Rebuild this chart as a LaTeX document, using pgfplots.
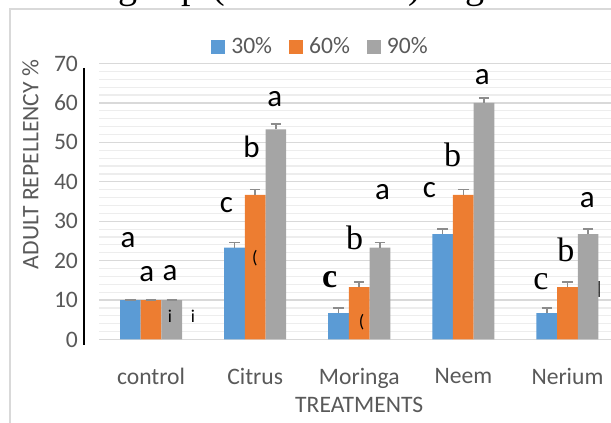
\documentclass[border=0pt]{standalone}
\usepackage{pgfplots}
\pgfplotsset{compat=1.18}
\usepackage{fontspec}
\setmainfont{Carlito}
\newfontfamily\serif{Liberation Serif}
\definecolor{cblue}{HTML}{5B9BD5}
\definecolor{corange}{HTML}{ED7D31}
\definecolor{cgray}{HTML}{A5A5A5}
\definecolor{txt}{HTML}{595959}
\definecolor{majg}{HTML}{D9D9D9}
\definecolor{ming}{HTML}{EDEDED}
\definecolor{errc}{HTML}{8C8C8C}
\begin{document}
\begin{tikzpicture}
\path[use as bounding box] (0,0) rectangle (305.5pt,211.5pt);
\clip (0,0) rectangle (305.5pt,211.5pt);
% outer frame
\draw[majg, line width=0.8pt] (5pt,-1pt) -- (5pt,207pt) -- (310pt,207pt);
% title fragments (cut off at the top edge)
\begin{scope}[font=\serif\fontsize{19}{21}\selectfont]
\node[anchor=base, inner sep=0] at (64pt,212pt) {g};
\node[anchor=base, inner sep=0] at (95.5pt,212pt) {p};
\node[anchor=base, inner sep=0] at (109.5pt,212pt) {(};
\node[anchor=base, inner sep=0] at (207.5pt,212pt) {)};
\node[anchor=base, inner sep=0] at (237.5pt,212pt) {g};
\end{scope}
% y axis black line
\draw[black, line width=0.7pt] (42pt,177.5pt) -- (42pt,39pt);
% y label
\node[rotate=90, text=txt, font=\fontsize{11.8}{13}\selectfont] at (15.25pt,129.25pt) {ADULT REPELLENCY \%};
\begin{axis}[
  at={(49.5pt,41.75pt)}, anchor=south west,
  scale only axis, width=260.25pt, height=138pt,
  xmin=-0.5, xmax=4.5, ymin=0, ymax=70,
  ybar=0pt, bar width=10.35pt,
  xtick={0,1,2,3,4},
  xticklabels={control,Citrus,Moringa,Neem,Nerium},
  ytick={0,10,...,70},
  minor y tick num=4,
  ymajorgrids, yminorgrids,
  major grid style={majg, line width=0.7pt},
  minor grid style={ming, line width=0.6pt},
  axis line style={draw=none},
  tick style={draw=none},
  minor tick style={draw=none},
  /pgf/number format/assume math mode=true,
  tick label style={text=txt, font=\fontsize{11.8}{13}\selectfont},
  yticklabel style={xshift=-7pt},
  xticklabel style={yshift=-6.5pt},
  xlabel={TREATMENTS},
  xlabel style={at={(rel axis cs:0.5,0)}, anchor=center, yshift=-32.5pt, text=txt, font=\fontsize{11.8}{13}\selectfont},
  legend style={at={(rel axis cs:0.4236,1.0616)}, anchor=center, draw=none, fill=none,
    legend columns=-1, font=\fontsize{11.8}{13}\selectfont, text=txt,
    nodes={inner sep=0pt},
    /tikz/every odd column/.append style={column sep=3pt},
    /tikz/every even column/.append style={column sep=8.5pt}},
  legend image code/.code={\fill[#1] (0pt,-3.5pt) rectangle (7pt,3.5pt);},
  error bars/y dir=plus, error bars/y explicit,
  error bars/error bar style={errc, line width=0.8pt},
  error bars/error mark options={rotate=90, errc, mark size=2.6pt, line width=0.8pt},
  clip=false,
]
\addplot[fill=cblue, draw=none] coordinates {(0,10) +- (0,0) (1,23.3) +- (0,1.3) (2,6.7) +- (0,1.3) (3,26.7) +- (0,1.3) (4,6.7) +- (0,1.3)};
\addplot[fill=corange, draw=none] coordinates {(0,10) +- (0,0) (1,36.7) +- (0,1.3) (2,13.3) +- (0,1.3) (3,36.7) +- (0,1.3) (4,13.3) +- (0,1.3)};
\addplot[fill=cgray, draw=none] coordinates {(0,10) +- (0,0) (1,53.3) +- (0,1.3) (2,23.3) +- (0,1.3) (3,60) +- (0,1.3) (4,26.7) +- (0,1.3)};
\legend{30\%,60\%,90\%}
% significance letters
\begin{scope}[every node/.style={font=\fontsize{15.5}{17}\selectfont, inner sep=0}]
\node at (axis cs:-0.22,25.3) {a};
\node at (axis cs:-0.041,16.6) {a};
\node at (axis cs:0.182,16.9) {a};
\node at (axis cs:0.725,34.1) {c};
\node at (axis cs:0.965,48.9) {b};
\node at (axis cs:1.189,61.0) {a};
\node[font=\serif\bfseries\fontsize{17}{19}\selectfont] at (axis cs:1.716,15.1) {c};
\node[font=\serif\fontsize{17}{19}\selectfont] at (axis cs:1.956,25.8) {b};
\node at (axis cs:2.224,37.4) {a};
\node at (axis cs:2.675,37.9) {c};
\node[font=\serif\fontsize{17}{19}\selectfont] at (axis cs:2.896,46.8) {b};
\node at (axis cs:3.183,66.6) {a};
\node[font=\serif\fontsize{17}{19}\selectfont] at (axis cs:3.746,14.7) {c};
\node[font=\serif\fontsize{17}{19}\selectfont] at (axis cs:3.986,22.7) {b};
\node at (axis cs:4.19,35.4) {a};
\node[font=\fontsize{9}{10}\selectfont] at (axis cs:0.182,5.8) {i};
\node[font=\fontsize{9}{10}\selectfont] at (axis cs:0.403,5.8) {i};
\node[font=\fontsize{9}{10}\selectfont] at (axis cs:0.997,20.7) {(};
\node[font=\fontsize{9}{10}\selectfont] at (axis cs:2.023,4.4) {(};
\node[font=\fontsize{9}{10}\selectfont] at (axis cs:4.305,12.6) {|};
\end{scope}
\end{axis}
\end{tikzpicture}
\end{document}
